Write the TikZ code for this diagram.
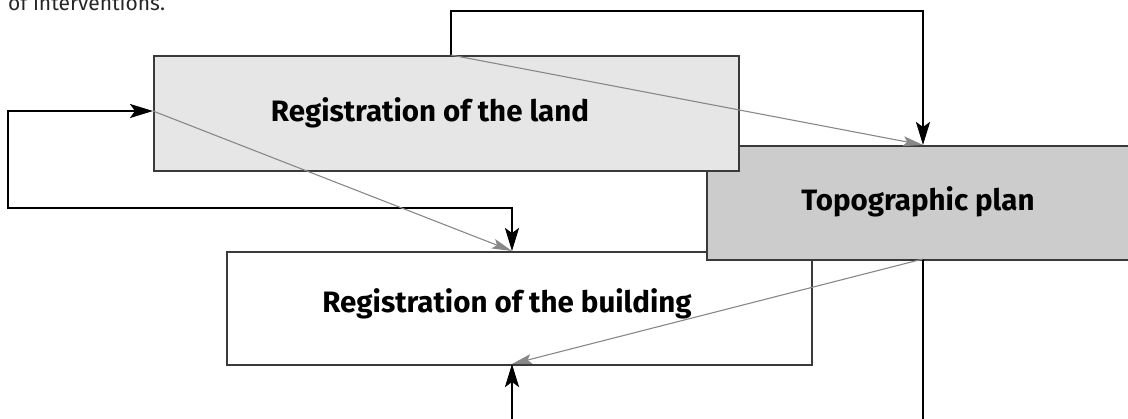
\documentclass[tikz,border=0pt]{standalone}
\usepackage{fontspec}
\setmainfont{Fira Sans}
\usetikzlibrary{arrows.meta}
\definecolor{landfill}{HTML}{E6E6E6}
\definecolor{topofill}{HTML}{CCCCCC}
\definecolor{boxline}{HTML}{3A3A3A}
\definecolor{grayarrow}{HTML}{888888}
\begin{document}
\begin{tikzpicture}[x=1pt,y=-1pt,
  boxnode/.style={draw=boxline,line width=1.5pt,anchor=north west,inner sep=0pt},
  boxtext/.style={anchor=base,inner sep=0pt,font=\fontsize{29.5}{34}\selectfont\bfseries},
  flow/.style={line width=2.3pt,black,-{Stealth[length=23pt,width=14pt,inset=5pt]}},
  flowboth/.style={line width=2.3pt,black,{Stealth[length=23pt,width=14pt,inset=5pt]}-{Stealth[length=23pt,width=14pt,inset=5pt]}},
  link/.style={line width=1.1pt,grayarrow,-{Stealth[length=20pt,width=10pt,inset=4pt]}}]
\useasboundingbox (0,0) rectangle (1128,418);
\node[anchor=base west,inner sep=0pt,font=\fontsize{21}{24}\selectfont,text=black!85] (intro) at (8,10) {of interventions.};
% boxes
\node[boxnode,fill=white,minimum width=585pt,minimum height=113pt] (build) at (226,251) {};
\node[boxnode,fill=topofill,minimum width=430pt,minimum height=114pt] (topo) at (706,145) {};
\node[boxnode,fill=landfill,minimum width=585pt,minimum height=115pt] (land) at (153,55) {};
\node[boxtext] (landtxt) at (430,121) {Registration of the land};
\node[boxtext] (topotxt) at (918,210) {Topographic plan};
\node[boxtext] (buildtxt) at (507,312) {Registration of the building};
% anchor points on box edges
\coordinate (landtop) at (451,55);
\coordinate (landleft) at (153,111);
\coordinate (topotop) at (923,145);
\coordinate (topobot) at (923,259);
\coordinate (buildtop) at (512,251);
\coordinate (buildbot) at (512,364);
\coordinate (loopL) at (8,111);
\coordinate (loopLB) at (8,208);
\coordinate (loopB) at (512,208);
\coordinate (topR) at (923,11);
\coordinate (topL) at (451,11);
\coordinate (botR) at (923,440);
\coordinate (botL) at (512,440);
% black connectors
\draw[flow] (landtop) -- (topL) -- (topR) -- (topotop);
\draw[flowboth] (landleft) -- (loopL) -- (loopLB) -- (loopB) -- (buildtop);
\draw[flow] (topobot) -- (botR) -- (botL) -- (buildbot);
% gray connectors
\draw[link] (landtop) -- (topotop);
\draw[link] (landleft) -- (buildtop);
\draw[link] (topobot) -- (buildbot);
\end{tikzpicture}
\end{document}
